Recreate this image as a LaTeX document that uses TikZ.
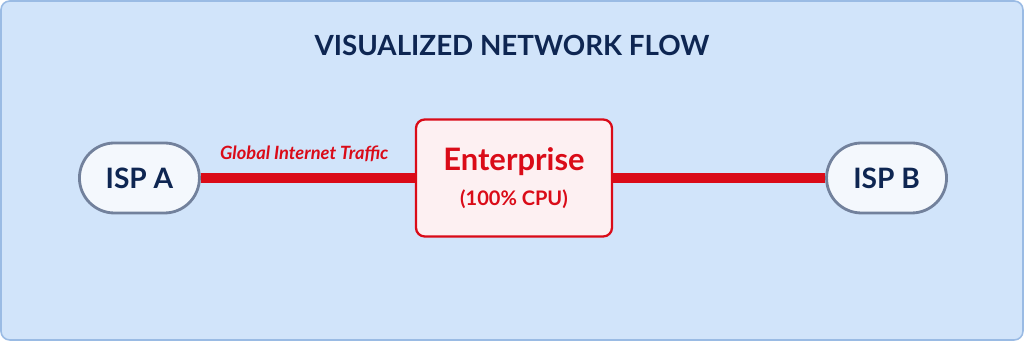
\documentclass[tikz,border=0pt]{standalone}
\usepackage{fontspec}
\setmainfont{Lato}
\usetikzlibrary{positioning}
\definecolor{bgblue}{HTML}{D1E4FA}
\definecolor{frameblue}{HTML}{9ABBE4}
\definecolor{navy}{HTML}{0E2652}
\definecolor{pillgray}{HTML}{72819C}
\definecolor{pillfill}{HTML}{F4F8FD}
\definecolor{flowred}{HTML}{DA0B18}
\definecolor{entfill}{HTML}{FDF0F2}
\tikzset{
 isp/.style={draw=pillgray,line width=1.6pt,fill=pillfill,rounded corners=0.7cm,
             minimum width=2.4cm,minimum height=1.4cm,align=center,
             font=\bfseries\fontsize{16}{19}\selectfont,text=navy},
 ent/.style={draw=flowred,line width=1.3pt,fill=entfill,rounded corners=5pt,
             minimum width=3.92cm,minimum height=2.34cm,align=center,text=flowred},
 flow/.style={flowred,line width=5.8pt},
}

\begin{document}
\begin{tikzpicture}[node distance=0.5cm and 4.28cm]
% frame
\path[use as bounding box] (-10.28,-3.26) rectangle (10.2,3.56);
\draw[frameblue,fill=bgblue,line width=0.9pt,rounded corners=5pt]
  (-10.26,-3.24) rectangle (10.18,3.54);
\node[font=\bfseries\fontsize{15.8}{18}\selectfont,text=navy] (title) at (-0.04,2.66)
  {VISUALIZED NETWORK FLOW};
\node[ent] (core) at (0,0)
  {{\bfseries\fontsize{17.6}{20}\selectfont Enterprise}\\[8pt]
   {\bfseries\fontsize{11.4}{13}\selectfont (100\% CPU)}};
\node[isp,left=of core] (ispa) {ISP A};
\node[isp,right=4.24cm of core] (ispb) {ISP B};
\draw[flow] (ispa) -- node[above=3pt,xshift=-2pt,font=\bfseries\itshape\fontsize{10.4}{12}\selectfont] (traffic)
  {Global Internet Traffic} (core);
\draw[flow] (core) -- (ispb);
\end{tikzpicture}
\end{document}
